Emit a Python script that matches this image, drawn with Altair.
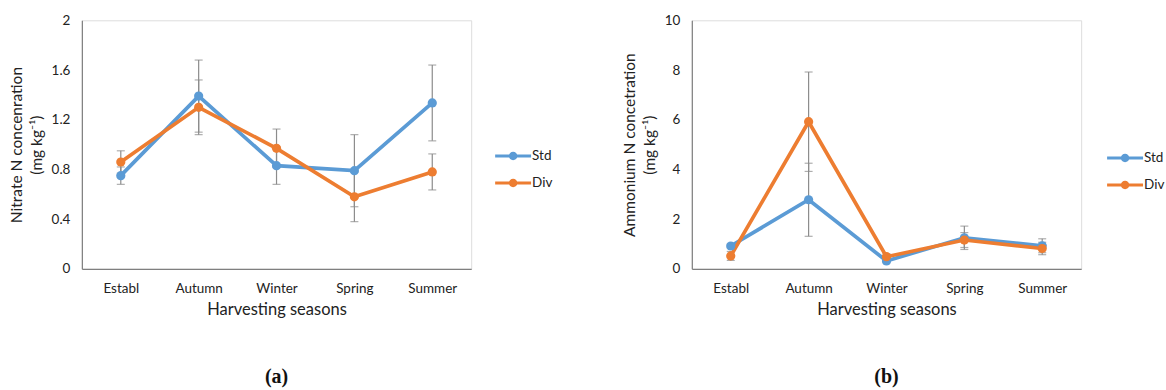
import altair as alt
import pandas as pd

seasons = ["Establ", "Autumn", "Winter", "Spring", "Summer"]
series_names = ["Std", "Div"]

nitrate_std = [0.75, 1.39, 0.83, 0.79, 1.335]
nitrate_div = [0.86, 1.30, 0.97, 0.58, 0.78]
nitrate_std_err = [0.07, 0.29, 0.15, 0.29, 0.305]
nitrate_div_err = [0.09, 0.22, 0.155, 0.20, 0.145]

ammonium_std = [0.92, 2.78, 0.32, 1.25, 0.93]
ammonium_div = [0.52, 5.92, 0.49, 1.16, 0.82]
ammonium_std_err = [0.08, 1.47, 0.08, 0.47, 0.28]
ammonium_div_err = [0.18, 2.00, 0.12, 0.30, 0.25]

COLORS = ["#5B9BD5", "#ED7D31"]
FONT = "Lato"

def make_df(std, div, std_err, div_err):
    rows = []
    for name, vals, errs in (("Std", std, std_err), ("Div", div, div_err)):
        for s, v, e in zip(seasons, vals, errs):
            rows.append({"season": s, "series": name, "value": v,
                         "lo": v - e, "hi": v + e})
    return pd.DataFrame(rows)

LEGEND_PATH = ("M-1.8,-0.15 L1.8,-0.15 L1.8,0.15 L-1.8,0.15 Z "
               "M0.42,0 A0.42,0.42 0 1,1 -0.42,0 A0.42,0.42 0 1,1 0.42,0 Z")

def panel(df, ymax, yvals, title_lines, tag, legend_xy):
    x = alt.X("season:N", sort=seasons,
              scale=alt.Scale(type="point", padding=0.5),
              axis=alt.Axis(title="Harvesting seasons", labelAngle=0,
                            ticks=False, domainColor="#7f7f7f", domainWidth=1.2,
                            labelPadding=13, titlePadding=6, labelFontSize=13.5,
                            titleFontSize=16.5, labelColor="#222", titleColor="#222",
                            labelFont=FONT, titleFont=FONT, titleFontWeight="normal"))
    yscale = alt.Scale(domain=[0, ymax], nice=False, zero=True)
    yaxis = alt.Axis(title=title_lines, values=yvals, format="~r", ticks=False,
                     grid=False, domainColor="#7f7f7f", domainWidth=1.2,
                     labelPadding=12, titlePadding=7, labelFontSize=13.5,
                     titleFontSize=15.5, titleLineHeight=20, labelColor="#222",
                     titleColor="#222", labelFont=FONT, titleFont=FONT,
                     titleFontWeight="normal")
    legend = alt.Legend(title=None, orient="none",
                        legendX=legend_xy[0], legendY=legend_xy[1],
                        symbolType=LEGEND_PATH, symbolSize=400,
                        symbolStrokeWidth=0, symbolFillColor=None,
                        labelOffset=9, rowPadding=10, labelFontSize=13.5,
                        labelFont=FONT, labelColor="#222")
    color = alt.Color("series:N", sort=series_names,
                      scale=alt.Scale(domain=series_names, range=COLORS),
                      legend=legend)
    base = alt.Chart(df)
    rules = base.mark_rule(color="#8c8c8c", strokeWidth=1.2).encode(
        x=x, y=alt.Y("lo:Q", scale=yscale, axis=yaxis), y2="hi:Q")
    cap_lo = base.mark_tick(color="#8c8c8c", size=8, thickness=1.2).encode(
        x=x, y=alt.Y("lo:Q", scale=yscale))
    cap_hi = base.mark_tick(color="#8c8c8c", size=8, thickness=1.2).encode(
        x=x, y=alt.Y("hi:Q", scale=yscale))
    line = base.mark_line(strokeWidth=3.7).encode(
        x=x, y=alt.Y("value:Q", scale=yscale), color=color,
        detail="series:N")
    pts = base.mark_point(filled=True, size=85, opacity=1).encode(
        x=x, y=alt.Y("value:Q", scale=yscale), color=color)
    return alt.layer(rules, cap_lo, cap_hi, line, pts).properties(
        width=390, height=249,
        title=alt.TitleParams(tag, orient="bottom", anchor="middle", frame="group",
                              font="Liberation Serif", fontSize=20, fontWeight="bold",
                              color="#111", offset=49))

left = panel(make_df(nitrate_std, nitrate_div, nitrate_std_err, nitrate_div_err),
             2, [0, 0.4, 0.8, 1.2, 1.6, 2],
             ["Nitrate N concenration", "(mg kg\u207b\u00b9)"], "(a)", (422, 126))
right = panel(make_df(ammonium_std, ammonium_div, ammonium_std_err, ammonium_div_err),
              10, [0, 2, 4, 6, 8, 10],
              ["Ammonium N concetration", "(mg kg\u207b\u00b9)"], "(b)", (424, 128))

chart = alt.hconcat(left, right, spacing=67).resolve_scale(color="independent").properties(
    padding={"left": 8, "top": 12, "right": 0, "bottom": 0}
).configure_view(stroke=None).configure(background="white")

chart.save("out.html", embed_options={"renderer": "svg", "actions": False})
